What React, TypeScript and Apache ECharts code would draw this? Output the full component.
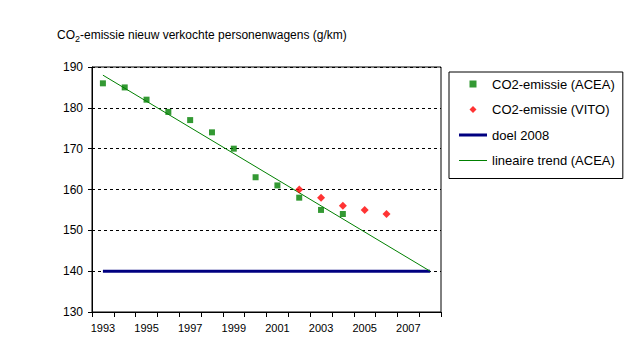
import React, { useEffect, useRef } from "react";
import * as echarts from "echarts";

const years = ["1993","1994","1995","1996","1997","1998","1999","2000","2001","2002","2003","2004","2005","2006","2007","2008"];
const aceaYears = ["1993","1994","1995","1996","1997","1998","1999","2000","2001","2002","2003","2004"];
const aceaValues = [186, 185, 182, 179, 177, 174, 170, 163, 161, 158, 155, 154];
const vitoYears = ["2002","2003","2004","2005","2006"];
const vitoValues = [160, 158, 156, 155, 154];
const doelYears = ["1993","2008"];
const doelValues = [140, 140];
const trendYears = ["1993","2008"];
const trendValues = [188, 140];

const FONT = "'Liberation Sans', Arial, sans-serif";

export default function App() {
  const ref = useRef<HTMLDivElement>(null);
  useEffect(() => {
    if (!ref.current) return;
    const chart = echarts.init(ref.current, null, { renderer: "svg" });
    const pair = (xs: string[], ys: number[]) => xs.map((x, i) => [x, ys[i]]);
    chart.setOption({
      animation: false,
      backgroundColor: "#ffffff",
      textStyle: { fontFamily: FONT, color: "#000" },
      title: {
        text: "CO{sub|2}-emissie nieuw verkochte personenwagens (g/km)",
        left: 57,
        top: 27,
        padding: 0,
        textStyle: {
          fontFamily: FONT,
          fontSize: 12,
          fontWeight: "normal",
          color: "#000",
          lineHeight: 16,
          rich: {
            sub: { fontFamily: FONT, fontSize: 9, color: "#000", verticalAlign: "bottom", lineHeight: 9 },
          },
        },
      },
      legend: {
        orient: "vertical",
        left: 449,
        top: 72,
        padding: [5, 8, 11, 10],
        itemWidth: 28,
        itemHeight: 7,
        itemGap: 11.5,
        borderColor: "#000",
        borderWidth: 1,
        borderRadius: 0,
        selectedMode: false,
        textStyle: { fontFamily: FONT, fontSize: 13, color: "#000", lineHeight: 14 },
        data: [
          { name: "CO2-emissie (ACEA)", icon: "path://M0,0L1,0L1,1L0,1Z" },
          { name: "CO2-emissie (VITO)", icon: "path://M0.5,0L1,0.5L0.5,1L0,0.5Z" },
          { name: "doel 2008", icon: "path://M0,0L28,0L28,3L0,3Z" },
          { name: "lineaire trend (ACEA)", icon: "path://M0,0L28,0L28,1L0,1Z" },
        ],
      },
      grid: { left: 92, top: 67, width: 349, height: 245, show: true, borderColor: "#000", borderWidth: 1, backgroundColor: "transparent" },
      xAxis: {
        type: "category",
        data: years,
        boundaryGap: true,
        axisLine: { lineStyle: { color: "#000", width: 1 } },
        axisTick: { show: true, interval: 0, length: 5, lineStyle: { color: "#000" } },
        axisLabel: { interval: 1, fontFamily: FONT, fontSize: 11, color: "#000", margin: 10 },
        splitLine: { show: false },
      },
      yAxis: {
        type: "value",
        min: 130,
        max: 190,
        interval: 10,
        axisLine: { show: true, lineStyle: { color: "#000", width: 1 } },
        axisTick: { show: true, length: 4, lineStyle: { color: "#000" } },
        axisLabel: { fontFamily: FONT, fontSize: 12, color: "#000", margin: 9 },
        splitLine: { show: true, lineStyle: { color: "#000", type: [3, 3], width: 1 } },
      },
      series: [
        {
          name: "doel 2008",
          type: "line",
          data: pair(doelYears, doelValues),
          symbol: "none",
          lineStyle: { color: "#000080", width: 3 },
          itemStyle: { color: "#000080" },
          z: 2,
        },
        {
          name: "lineaire trend (ACEA)",
          type: "line",
          data: pair(trendYears, trendValues),
          symbol: "none",
          lineStyle: { color: "#008000", width: 1 },
          itemStyle: { color: "#008000" },
          z: 3,
        },
        {
          name: "CO2-emissie (ACEA)",
          type: "scatter",
          data: pair(aceaYears, aceaValues),
          symbol: "rect",
          symbolSize: 6,
          itemStyle: { color: "#008000" },
          z: 4,
        },
        {
          name: "CO2-emissie (VITO)",
          type: "scatter",
          data: pair(vitoYears, vitoValues),
          symbol: "diamond",
          symbolSize: 8,
          itemStyle: { color: "#ff0000" },
          z: 5,
        },
      ],
    });
    return () => chart.dispose();
  }, []);
  return <div ref={ref} style={{ position: "absolute", left: 0, top: 0, width: 628, height: 357 }} />;
}
